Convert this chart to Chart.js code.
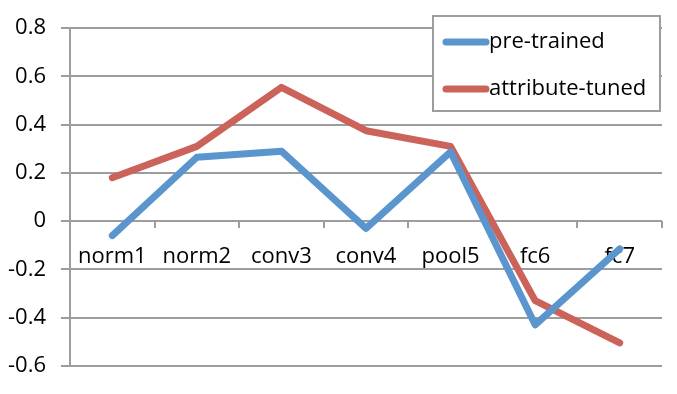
<!DOCTYPE html>
<html>
<head>
<meta charset="utf-8">
<script src="https://cdn.jsdelivr.net/npm/chart.js@4/dist/chart.umd.min.js"></script>
<style>
  html, body { margin: 0; padding: 0; background: #fff; }
  #wrap { width: 677px; height: 394px; }
</style>
</head>
<body>
<div id="wrap"><canvas id="chart" width="677" height="394"></canvas></div>
<script>
// layer names along the x axis
var layers = ['norm1', 'norm2', 'conv3', 'conv4', 'pool5', 'fc6', 'fc7'];
// series
var preTrained = [-0.06, 0.265, 0.29, -0.03, 0.287, -0.43, -0.115];
var attributeTuned = [0.18, 0.31, 0.555, 0.375, 0.31, -0.33, -0.505];
var seriesNames = ['pre-trained', 'attribute-tuned'];
var seriesColors = ['#5b95cd', '#cc635b'];
// y axis range
var yMin = -0.6, yMax = 0.8, yStep = 0.2;

var fontFamily = '"Open Sans", sans-serif';
var gridColor = '#9d9d9d';

// legend box drawn inside the plot, top right
var boxLegend = {
    id: 'boxLegend',
    afterDraw: function(chart) {
        var ctx = chart.ctx;
        var x0 = 433, y0 = 16, w = 227, h = 95;
        ctx.save();
        ctx.fillStyle = '#fff';
        ctx.fillRect(x0, y0, w, h);
        ctx.strokeStyle = gridColor;
        ctx.lineWidth = 2;
        ctx.strokeRect(x0, y0, w, h);
        chart.data.datasets.forEach(function(ds, i) {
            var y = 42 + i * 47;
            ctx.strokeStyle = ds.borderColor;
            ctx.lineWidth = 7;
            ctx.lineCap = 'round';
            ctx.beginPath();
            ctx.moveTo(446, y);
            ctx.lineTo(486, y);
            ctx.stroke();
            ctx.fillStyle = '#000';
            ctx.font = '22px ' + fontFamily;
            ctx.textBaseline = 'middle';
            ctx.textAlign = 'left';
            ctx.fillText(ds.label, 489, y);
        });
        ctx.restore();
    }
};

var ctx = document.getElementById('chart').getContext('2d');
var lineChart = new Chart(ctx, {
    type: 'line',
    data: {
        labels: layers,
        datasets: [
            {
                label: seriesNames[0],
                data: preTrained,
                borderColor: seriesColors[0],
                borderWidth: 7,
                borderCapStyle: 'round',
                borderJoinStyle: 'round',
                pointRadius: 0,
                fill: false,
                tension: 0
            },
            {
                label: seriesNames[1],
                data: attributeTuned,
                borderColor: seriesColors[1],
                borderWidth: 7,
                borderCapStyle: 'round',
                borderJoinStyle: 'round',
                pointRadius: 0,
                fill: false,
                tension: 0
            }
        ]
    },
    options: {
        responsive: false,
        animation: false,
        layout: {
            padding: { left: 0, right: 15, top: 24, bottom: 24 }
        },
        plugins: {
            legend: { display: false },
            tooltip: { enabled: false }
        },
        scales: {
            x: {
                position: { y: 0 },
                offset: true,
                grid: {
                    offset: true,
                    drawOnChartArea: false,
                    drawTicks: true,
                    tickLength: 7,
                    color: gridColor,
                    lineWidth: 2
                },
                border: { display: false },
                ticks: {
                    color: '#000',
                    font: { family: fontFamily, size: 22 },
                    padding: 15,
                    maxRotation: 0,
                    autoSkip: false
                }
            },
            y: {
                min: yMin,
                max: yMax,
                afterFit: function(scale) { scale.width = 70; },
                grid: {
                    color: gridColor,
                    lineWidth: 2,
                    tickLength: 9
                },
                border: { display: true, color: gridColor, width: 2 },
                ticks: {
                    stepSize: yStep,
                    color: '#000',
                    padding: 15,
                    font: { family: fontFamily, size: 22 },
                    callback: function(v) { return String(Number(v.toFixed(1))); }
                }
            }
        }
    },
    plugins: [boxLegend]
});
</script>
</body>
</html>
